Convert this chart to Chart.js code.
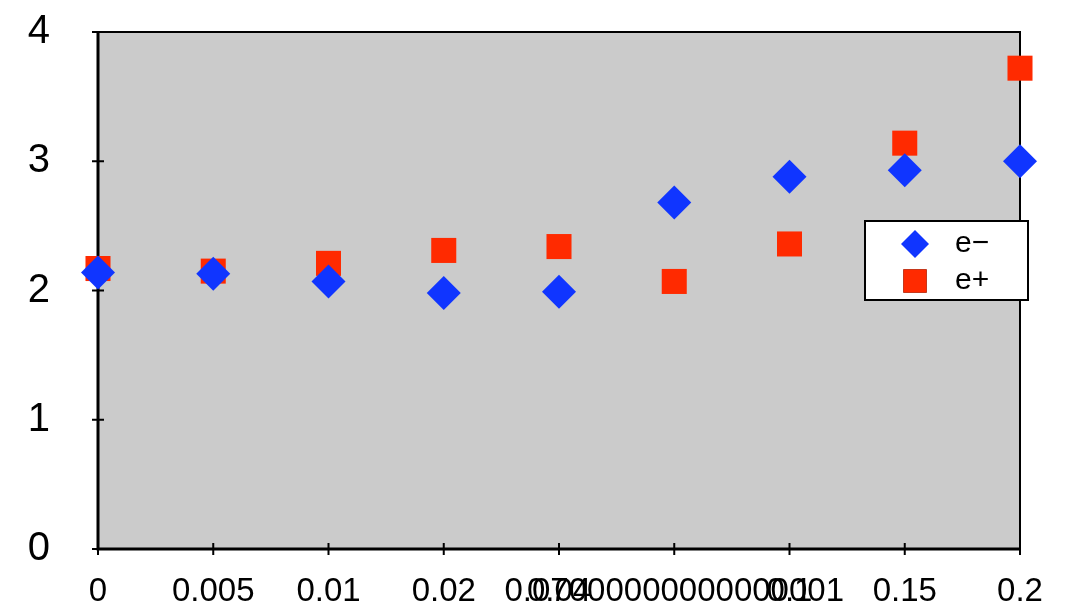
<!DOCTYPE html>
<html><head><meta charset="utf-8">
<script src="https://cdn.jsdelivr.net/npm/chart.js@4/dist/chart.umd.min.js"></script>
<style>html,body{margin:0;padding:0;background:#fff}#wrap{width:1066px;height:607px}</style>
</head><body><div id="wrap"><canvas id="c" width="1066" height="607"></canvas></div>
<script>
const categories = ["0","0.005","0.01","0.02","0.04","0.07000000000000001","0.1","0.15","0.2"];
const eMinus = [2.14, 2.13, 2.07, 1.98, 1.99, 2.68, 2.88, 2.93, 3.00];
const ePlus  = [2.17, 2.15, 2.21, 2.31, 2.34, 2.07, 2.36, 3.14, 3.72];
const seriesLabels = ["e\u2212", "e+"];
const yMin = 0, yMax = 4, yStep = 1;

const FONT = "'Liberation Sans', Arial, Helvetica, sans-serif";

const framePlugin = {
  id: 'frame',
  beforeDraw(chart) {
    const {ctx, chartArea: a} = chart;
    ctx.save();
    ctx.fillStyle = '#cbcbcb';
    ctx.fillRect(a.left, a.top, a.right - a.left, a.bottom - a.top);
    ctx.restore();
  },
  beforeDatasetsDraw(chart) {
    const {ctx, chartArea: a, scales} = chart;
    ctx.save();
    ctx.strokeStyle = '#000';
    ctx.lineWidth = 2;
    ctx.strokeRect(a.left, a.top, a.right - a.left, a.bottom - a.top);
    ctx.lineWidth = 3;
    ctx.beginPath();
    ctx.moveTo(a.left, a.top); ctx.lineTo(a.left, a.bottom); ctx.lineTo(a.right, a.bottom);
    ctx.stroke();
    ctx.lineWidth = 2;
    ctx.beginPath();
    scales.y.ticks.forEach((t, i) => {
      const y = scales.y.getPixelForTick(i);
      ctx.moveTo(a.left - 6, y); ctx.lineTo(a.left + 6, y);
    });
    scales.x.ticks.forEach((t, i) => {
      const x = scales.x.getPixelForTick(i);
      ctx.moveTo(x, a.bottom - 6); ctx.lineTo(x, a.bottom + 6);
    });
    ctx.stroke();
    ctx.restore();
  }
};

const legendPlugin = {
  id: 'boxLegend',
  afterDraw(chart) {
    const {ctx} = chart;
    const bx = 865, by = 221, bw = 163, bh = 79;
    ctx.save();
    ctx.fillStyle = '#fff';
    ctx.fillRect(bx, by, bw, bh);
    ctx.strokeStyle = '#000';
    ctx.lineWidth = 2;
    ctx.strokeRect(bx, by, bw, bh);
    chart.data.datasets.forEach((ds, i) => {
      const cy = by + 23 + i * 37;
      Chart.helpers.drawPoint(ctx, {
        pointStyle: ds.pointStyle, radius: i === 0 ? 14 : 16.5, rotation: 0, borderWidth: 0
      }, 915, cy);
      ctx.fillStyle = ds.backgroundColor;
      ctx.fill();
      ctx.fillStyle = '#000';
      ctx.font = '30px ' + FONT;
      ctx.textBaseline = 'middle';
      ctx.textAlign = 'left';
      ctx.fillText(ds.label, 955, cy);
    });
    ctx.restore();
  }
};

new Chart(document.getElementById('c'), {
  type: 'line',
  data: {
    labels: categories,
    datasets: [
      { label: seriesLabels[0], data: eMinus, showLine: false, pointStyle: 'rectRot',
        pointRadius: 17, pointHoverRadius: 17, pointBorderWidth: 0,
        backgroundColor: '#1035ff', borderColor: '#1035ff', clip: false },
      { label: seriesLabels[1], data: ePlus, showLine: false, pointStyle: 'rect',
        pointRadius: 17.7, pointHoverRadius: 17.7, pointBorderWidth: 0,
        backgroundColor: '#ff2a00', borderColor: '#ff2a00', clip: false }
    ]
  },
  options: {
    responsive: false,
    animation: false,
    events: [],
    layout: { padding: { top: 32, right: 46, left: 0, bottom: 0 } },
    plugins: { legend: { display: false }, tooltip: { enabled: false } },
    scales: {
      x: {
        type: 'category', offset: false,
        grid: { display: false, drawTicks: false },
        border: { display: false },
        ticks: { autoSkip: false, maxRotation: 0, minRotation: 0, padding: 23,
          color: '#000', font: { family: FONT, size: 33 } },
        afterFit(s) { s.height = 58; s.paddingLeft = 0; s.paddingRight = 0; }
      },
      y: {
        min: yMin, max: yMax,
        grid: { display: false, drawTicks: false },
        border: { display: false },
        ticks: { stepSize: yStep, padding: 48, color: '#000', font: { family: FONT, size: 40 } },
        afterFit(s) { s.width = 98; s.paddingTop = 0; s.paddingBottom = 0; }
      }
    }
  },
  plugins: [framePlugin, legendPlugin]
});
</script>
</body></html>
